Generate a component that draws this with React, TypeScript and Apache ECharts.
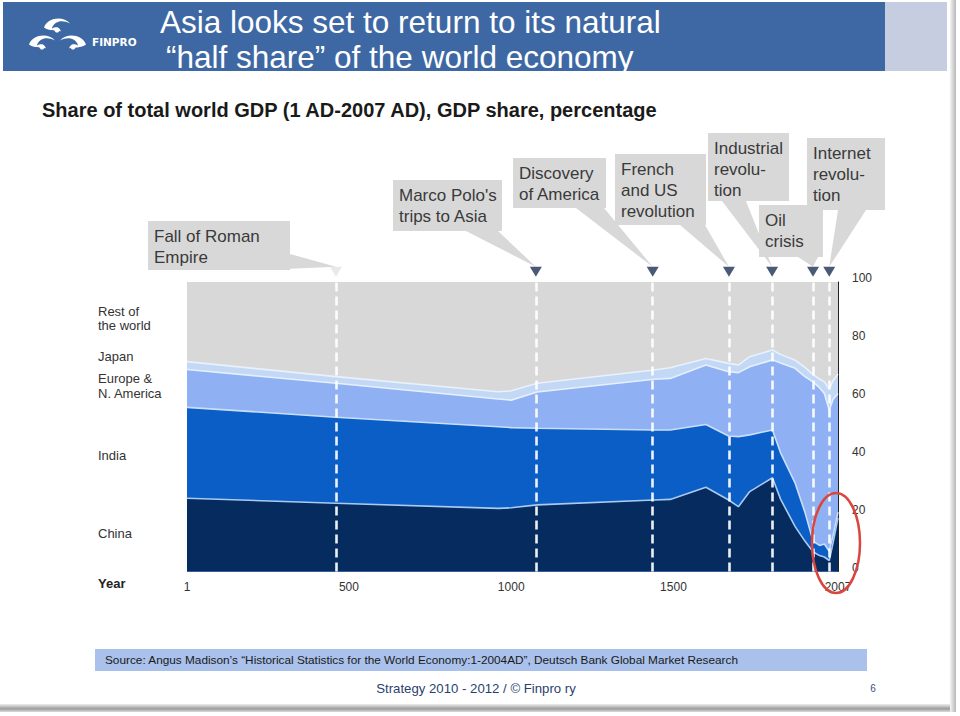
import React, { useEffect, useRef } from "react";
import * as echarts from "echarts";

// ---- data ----
const years = [1, 460, 960, 1000, 1080, 1440, 1490, 1600, 1670, 1700, 1735, 1805, 1830, 1875, 1905, 1930, 1950, 1965, 1980, 1992, 2007];
const china = [25.3, 23.6, 21.8, 22.0, 23.0, 24.7, 24.9, 29.1, 24.7, 22.4, 27.6, 32.4, 25.0, 15.5, 10.5, 6.8, 5.5, 5.0, 3.8, 10.0, 18.5];
const india = [31.4, 29.7, 28.2, 27.7, 26.5, 24.2, 24.0, 21.7, 22.1, 24.2, 19.6, 16.5, 16.0, 15.0, 10.0, 3.7, 3.5, 4.5, 3.2, 2.5, 2.0];
const europeNA = [13.1, 11.7, 9.6, 9.5, 12.5, 17.5, 17.8, 20.5, 22.2, 22.1, 23.5, 24.2, 31.0, 39.7, 46.8, 55.0, 54.5, 52.0, 48.8, 47.0, 41.0];
const japan = [2.7, 2.3, 2.5, 3.2, 3.0, 3.2, 3.7, 2.3, 2.9, 2.6, 3.5, 3.4, 3.0, 2.8, 3.2, 2.5, 3.0, 4.0, 7.2, 6.5, 6.7];
const restOfWorld = [27.5, 32.7, 37.9, 37.6, 35.0, 30.4, 29.6, 26.4, 28.1, 28.7, 25.8, 23.5, 25.0, 27.0, 29.5, 32.0, 33.5, 34.5, 37.0, 34.0, 31.8];

const seriesNames = ["China", "India", "Europe & N. America", "Japan", "Rest of the world"];
const eventYears = [460, 1076, 1436, 1671, 1804, 1930, 1980];
const eventTexts = [
  ["Fall of Roman", "Empire"],
  ["Marco Polo's", "trips to Asia"],
  ["Discovery", "of America"],
  ["French", "and US", "revolution"],
  ["Industrial", "revolu-", "tion"],
  ["Oil", "crisis"],
  ["Internet", "revolu-", "tion"],
];
const xTickValues = [1, 500, 1000, 1500, 2007];
const markerLevel = 103.5;

// ---- layout (not data) ----
const FONT = "'Liberation Sans', Arial, Helvetica, sans-serif";
const calloutBoxes = [
  { x: 148, y: 221, w: 142, h: 49, base: [[262, 270], [290, 254]] },
  { x: 393, y: 180, w: 109, h: 51, base: [[466, 231], [498, 231]] },
  { x: 513, y: 158, w: 93, h: 50, base: [[576, 208], [604, 208]] },
  { x: 615, y: 154, w: 91, h: 71, base: [[680, 225], [705, 225]] },
  { x: 708, y: 133, w: 81, h: 68, base: [[722, 201], [746, 201]] },
  { x: 759, y: 205, w: 64, h: 52, base: [[798, 257], [818, 257]] },
  { x: 807, y: 138, w: 78, h: 72, base: [[838, 210], [866, 210]] },
];
const sideLabels = [
  { t: "Rest of", y: 311 },
  { t: "the world", y: 325 },
  { t: "Japan", y: 356 },
  { t: "Europe &", y: 378 },
  { t: "N. America", y: 393 },
  { t: "India", y: 455 },
  { t: "China", y: 533 },
];

echarts.graphic.registerShape(
  "finproSwirl",
  echarts.graphic.extendPath("M0 8 C3 0 15 -1 20 5 C14 2 8 3 6 9 C9 7 12 8 13 11 C9 10 4 11 0 8 Z", {})
);

export default function App() {
  const ref = useRef<HTMLDivElement>(null);

  useEffect(() => {
    const chart = echarts.init(ref.current!, null, { renderer: "svg" });
    const colors = ["#062b5f", "#0a5ec6", "#8fb1f4", "#c3d8f5", "#d8d8d8"];
    const lineColors = ["#a9cbf2", "#c8def9", "#e6f0fd", "#e9f1fc", "#d8d8d8"];
    const values = [china, india, europeNA, japan, restOfWorld];

    // cumulative tops of each band (bottom-up), built from the arrays above
    const running = years.map(() => 0);
    const tops = values.map((arr) => arr.map((v, i) => (running[i] = +(running[i] + v).toFixed(2))));

    const bands = values.map((_, k) => ({
      type: "line",
      name: seriesNames[k],
      data: years.map((y, i) => [y, tops[k][i]]),
      showSymbol: false,
      symbol: "none",
      silent: true,
      z: 8 - k,
      lineStyle: { width: k === 4 ? 0 : 1.6, color: lineColors[k] },
      areaStyle: { color: colors[k], opacity: 1, origin: "start" },
    }));

    chart.setOption({
      animation: false,
      textStyle: { fontFamily: FONT },
      grid: { left: 187, right: 122, top: 282, bottom: 144.5, containLabel: false },
      xAxis: {
        type: "value",
        min: 1,
        max: 2007,
        axisLine: { show: false },
        axisTick: { show: false },
        splitLine: { show: false },
        axisLabel: {
          customValues: xTickValues,
          color: "#333",
          fontSize: 12,
          margin: 9,
          formatter: (v: number) => String(v),
        },
      },
      yAxis: {
        type: "value",
        position: "right",
        min: 0,
        max: 100,
        interval: 20,
        splitLine: { show: false },
        axisLine: { show: true, lineStyle: { color: "#222", width: 1 } },
        axisTick: { show: true, inside: true, length: 5, lineStyle: { color: "#222" } },
        axisLabel: { color: "#333", fontSize: 12, margin: 14, verticalAlign: "bottom", lineHeight: 8 },
      },
      series: [
        ...bands,
        {
          type: "scatter",
          name: "events",
          clip: false,
          silent: true,
          z: 12,
          symbol: "triangle",
          symbolRotate: 180,
          symbolSize: [12, 10],
          data: eventYears.map((y, i) => ({
            value: [y, markerLevel],
            itemStyle: { color: i === 0 ? "#e4e4e4" : "#1c2f54" },
          })),
          markLine: {
            silent: true,
            symbol: "none",
            z: 11,
            label: { show: false },
            lineStyle: { color: "rgba(255,255,255,0.92)", width: 2.6, type: [9, 5] },
            data: eventYears.map((y) => ({ xAxis: y })),
          },
        },
      ],
    });

    const graphic: any[] = [];
    // header
    graphic.push({ type: "rect", shape: { x: 3, y: 2, width: 882, height: 69 }, style: { fill: "#3e68a3" } });
    graphic.push({ type: "rect", shape: { x: 885, y: 2, width: 62, height: 69 }, style: { fill: "#c6cde1" } });
    graphic.push({
      type: "text", x: 160, y: 22,
      style: { text: "Asia looks set to return to its natural", fill: "#fff", fontSize: 31.5, fontFamily: FONT, verticalAlign: "middle" },
    });
    graphic.push({
      type: "text", x: 166, y: 57,
      style: { text: "\u201chalf share\u201d of the world economy", fill: "#fff", fontSize: 31.5, fontFamily: FONT, verticalAlign: "middle" },
    });
    // logo
    graphic.push({ type: "finproSwirl", x: 44, y: 17, scaleX: 1.3, scaleY: 1.3, style: { fill: "#fff" } });
    graphic.push({ type: "finproSwirl", x: 29, y: 34, scaleX: 1.3, scaleY: 1.3, style: { fill: "#fff" } });
    graphic.push({ type: "finproSwirl", x: 86, y: 34, scaleX: -1.3, scaleY: 1.3, style: { fill: "#fff" } });
    graphic.push({ type: "circle", shape: { cx: 57, cy: 30, r: 2.5 }, style: { fill: "#fff" } });
    graphic.push({ type: "circle", shape: { cx: 42, cy: 47, r: 2.5 }, style: { fill: "#fff" } });
    graphic.push({ type: "circle", shape: { cx: 73, cy: 47, r: 2.5 }, style: { fill: "#fff" } });
    graphic.push({
      type: "text", x: 92, y: 42,
      style: { text: "FINPRO", fill: "#fff", fontSize: 10.5, fontWeight: "bold", fontFamily: "'DejaVu Sans', sans-serif", verticalAlign: "middle" },
    });
    // chart title
    graphic.push({
      type: "text", x: 42, y: 110,
      style: { text: "Share of total world GDP (1 AD-2007 AD), GDP share, percentage", fill: "#1a1a1a", fontSize: 20, fontWeight: "bold", fontFamily: FONT, verticalAlign: "middle" },
    });
    // side labels
    sideLabels.forEach((s) =>
      graphic.push({ type: "text", x: 98, y: s.y, style: { text: s.t, fill: "#333", fontSize: 13, fontFamily: FONT, verticalAlign: "middle" } })
    );
    graphic.push({ type: "text", x: 98, y: 583, style: { text: "Year", fill: "#222", fontSize: 13, fontWeight: "bold", fontFamily: FONT, verticalAlign: "middle" } });

    // callouts
    eventYears.forEach((yr, i) => {
      const tip = chart.convertToPixel({ gridIndex: 0 } as any, [yr, markerLevel]) as number[];
      const b = calloutBoxes[i];
      graphic.push({ type: "rect", shape: { x: b.x, y: b.y, width: b.w, height: b.h }, style: { fill: "#d8d8d8" }, z: 1 });
      graphic.push({
        type: "polygon",
        shape: { points: [b.base[0], b.base[1], [tip[0], tip[1] - 5]] },
        style: { fill: "#d8d8d8" },
        z: 1,
      });
      eventTexts[i].forEach((line, k) =>
        graphic.push({
          type: "text", x: b.x + 6, y: b.y + 15 + 21 * k, z: 2,
          style: { text: line, fill: "#3a3a3a", fontSize: 17, fontFamily: FONT, verticalAlign: "middle" },
        })
      );
    });

    // red highlight ellipse
    graphic.push({ type: "ellipse", shape: { cx: 836, cy: 543, rx: 24, ry: 50 }, style: { fill: "none", stroke: "#d9463e", lineWidth: 2.5 }, z: 100 });

    // source bar & footer
    graphic.push({ type: "rect", shape: { x: 95, y: 649, width: 772, height: 22 }, style: { fill: "#a9c1eb" } });
    graphic.push({
      type: "text", x: 105, y: 660,
      style: { text: "Source: Angus Madison\u2019s \u201cHistorical Statistics for the World Economy:1-2004AD\u201d, Deutsch Bank Global Market Research", fill: "#1a1a1a", fontSize: 11.8, fontFamily: FONT, verticalAlign: "middle" },
    });
    graphic.push({
      type: "text", x: 476, y: 688,
      style: { text: "Strategy 2010 - 2012 / \u00a9 Finpro ry", fill: "#2a3f6e", fontSize: 13.2, fontFamily: FONT, align: "center", verticalAlign: "middle" },
    });
    graphic.push({ type: "text", x: 873, y: 688, style: { text: "6", fill: "#3a5080", fontSize: 10, fontFamily: FONT, align: "center", verticalAlign: "middle" } });
    graphic.push({
      type: "rect", shape: { x: 0, y: 704, width: 956, height: 8 },
      style: { fill: new echarts.graphic.LinearGradient(0, 0, 0, 1, [{ offset: 0, color: "#eeeeee" }, { offset: 0.6, color: "#9c9c9c" }, { offset: 1, color: "#dcdcdc" }]) },
    });
    graphic.push({
      type: "rect", shape: { x: 950, y: 0, width: 6, height: 712 },
      style: { fill: new echarts.graphic.LinearGradient(0, 0, 1, 0, [{ offset: 0, color: "#f4f4f4" }, { offset: 1, color: "#b8b8b8" }]) },
    });

    chart.setOption({ graphic });

    return () => chart.dispose();
  }, []);

  return (
    <div
      ref={ref}
      style={{ position: "absolute", left: 0, top: 0, width: 960, height: 716, background: "#fff" }}
    />
  );
}
